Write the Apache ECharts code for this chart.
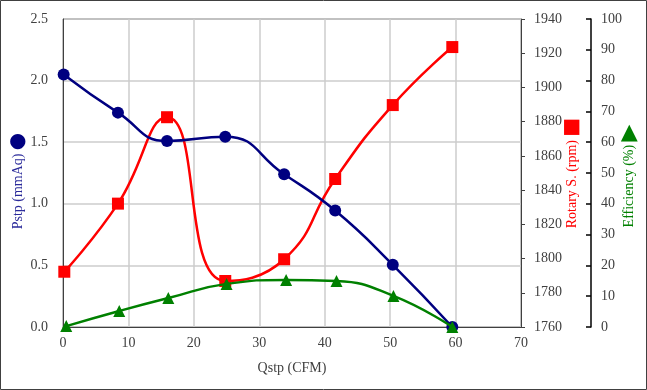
<!DOCTYPE html>
<html><head><meta charset="utf-8">
<script src="https://cdn.jsdelivr.net/npm/echarts@6/dist/echarts.min.js"></script>
<style>html,body{margin:0;padding:0;background:#fff}#c{width:647px;height:390px}</style>
</head><body><div id="c"></div>
<script>
// Data
const qstpP = [0.1, 8.4, 15.9, 24.8, 33.8, 41.6, 50.4, 59.5];
const pstp  = [2.05, 1.74, 1.51, 1.545, 1.24, 0.945, 0.505, 0.0];
const qstpR = [0.2, 8.4, 15.9, 24.8, 33.8, 41.6, 50.4, 59.5];
const rpm   = [1792.3, 1832.1, 1882.6, 1786.9, 1799.6, 1846.5, 1889.7, 1923.6];
const qstpE = [0.5, 8.6, 16.1, 25.0, 34.1, 41.8, 50.5, 59.5];
const eff   = [0.3, 5.2, 9.4, 14.0, 15.3, 14.9, 10.1, 0.0];
const xTitle = 'Qstp (CFM)';
const yTitles = ['Pstp (mmAq)', 'Rotary S. (rpm)', 'Efficiency (%)'];

const font = 'Liberation Serif';
const labelColor = '#404040';
const pair = (xs, ys) => xs.map((x, i) => [x, ys[i]]);

function vTitle(x, y, text, color, sym, symColor, symSize) {
  return {
    type: 'text', x: x, y: y, rotation: Math.PI / 2, silent: true,
    style: {
      text: '{t|' + text + '} {s|' + sym + '}',
      align: 'center', verticalAlign: 'middle',
      rich: {
        t: { fill: color, fontSize: 14, fontFamily: font },
        s: { fill: symColor, fontSize: symSize, fontFamily: 'DejaVu Sans' }
      }
    }
  };
}

const chart = echarts.init(document.getElementById('c'));
chart.setOption({
  animation: false,
  textStyle: { fontFamily: font },
  graphic: [
    { type: 'rect', shape: { x: 0.5, y: 0.5, width: 646, height: 389 },
      style: { fill: 'none', stroke: '#404040', lineWidth: 1 }, silent: true },
    vTitle(18, 181, yTitles[0], '#2a2a9a', '●', '#000080', 20),
    vTitle(572, 173, yTitles[1], '#ff0000', '■', '#ff0000', 20),
    vTitle(629, 176, yTitles[2], '#008000', '▶', '#008000', 22)
  ],
  grid: { left: 63, right: 126, top: 19, bottom: 63, show: true, borderColor: '#404040', borderWidth: 1,
          containLabel: false, outerBoundsMode: 'none' },
  xAxis: {
    type: 'value', min: 0, max: 70, interval: 10,
    name: xTitle, nameLocation: 'middle', nameGap: 34,
    nameTextStyle: { color: labelColor, fontSize: 14, fontFamily: font },
    axisLine: { show: true, lineStyle: { color: '#404040', width: 1 } },
    axisTick: { show: false },
    axisLabel: { color: labelColor, fontSize: 14, fontFamily: font, margin: 9 },
    splitLine: { show: true, lineStyle: { color: '#cccccc', width: 1.5 } }
  },
  yAxis: [
    {
      type: 'value', min: 0, max: 2.5, interval: 0.5, position: 'left',
      axisLine: { show: true, lineStyle: { color: '#404040', width: 1 } },
      axisTick: { show: false },
      axisLabel: { color: labelColor, fontSize: 14, fontFamily: font, margin: 15, formatter: v => v.toFixed(1) },
      splitLine: { show: true, lineStyle: { color: '#cccccc', width: 1.5 } }
    },
    {
      type: 'value', min: 1760, max: 1940, interval: 20, position: 'right',
      axisLine: { show: true, lineStyle: { color: '#404040', width: 1 } },
      axisTick: { show: true, length: 4, lineStyle: { color: '#404040' } },
      axisLabel: { color: labelColor, fontSize: 14, fontFamily: font, margin: 13, formatter: v => String(v) },
      splitLine: { show: false }
    },
    {
      type: 'value', min: 0, max: 100, interval: 10, position: 'right', offset: 70,
      axisLine: { show: true, lineStyle: { color: '#000000', width: 1.5 } },
      axisTick: { show: true, inside: true, length: 5, lineStyle: { color: '#000000', width: 1.5 } },
      axisLabel: { color: labelColor, fontSize: 14, fontFamily: font, margin: 10, formatter: v => String(v) },
      splitLine: { show: false }
    }
  ],
  series: [
    { type: 'line', name: 'Pstp', yAxisIndex: 0, data: pair(qstpP, pstp), smooth: 0.5,
      symbol: 'circle', symbolSize: 12, itemStyle: { color: '#000080' },
      lineStyle: { color: '#000080', width: 2.5 }, z: 3 },
    { type: 'line', name: 'Rotary', yAxisIndex: 1, data: pair(qstpR, rpm), smooth: 0.5,
      symbol: 'rect', symbolSize: 12, itemStyle: { color: '#ff0000' },
      lineStyle: { color: '#ff0000', width: 2.5 }, z: 2 },
    { type: 'line', name: 'Eff', yAxisIndex: 2, data: pair(qstpE, eff), smooth: 0.5,
      symbol: 'triangle', symbolSize: 12, itemStyle: { color: '#008000' },
      lineStyle: { color: '#008000', width: 2.5 }, z: 4 }
  ]
});
</script></body></html>
